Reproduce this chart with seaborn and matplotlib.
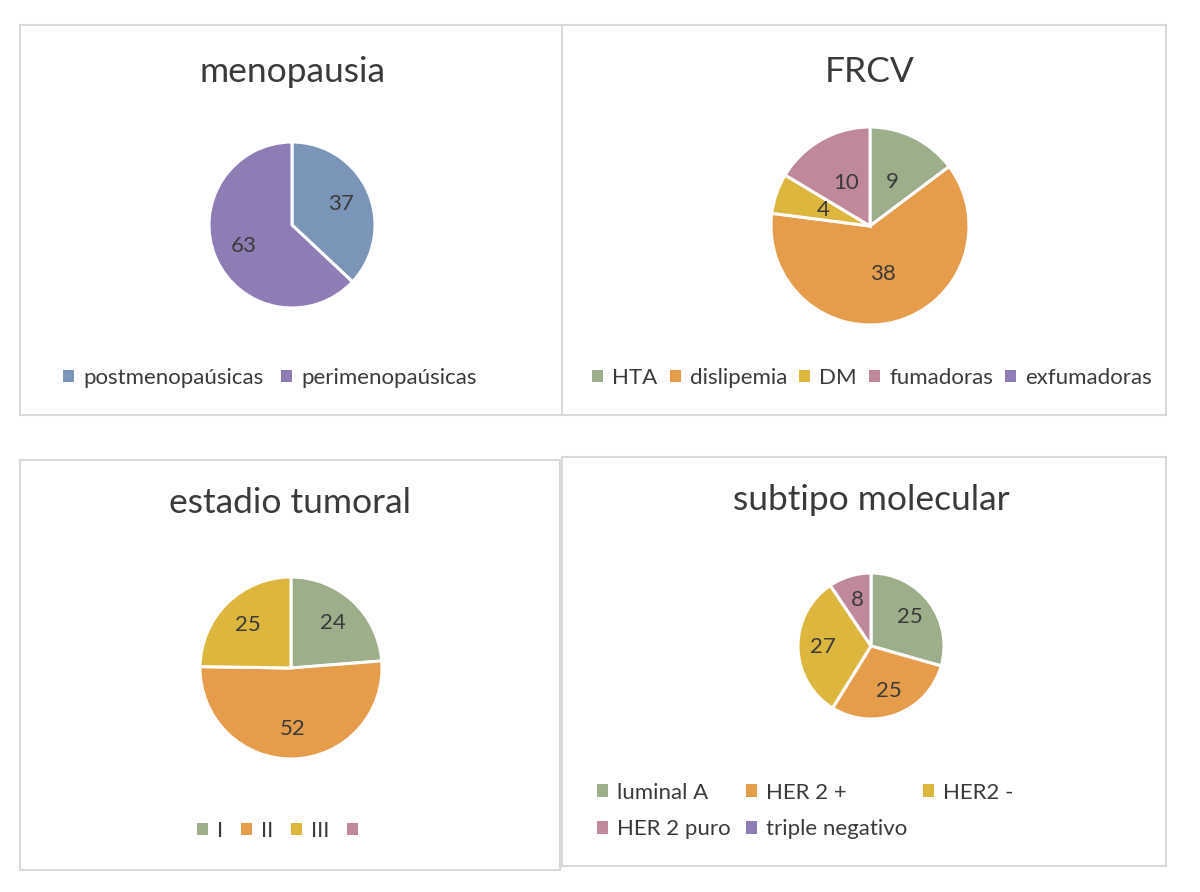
import matplotlib.pyplot as plt
import seaborn as sns
from matplotlib.patches import Rectangle

# Data
meno_labels = ["postmenopaúsicas", "perimenopaúsicas"]
meno_values = [37, 63]

frcv_labels = ["HTA", "dislipemia", "DM", "fumadoras", "exfumadoras"]
frcv_values = [9, 38, 4, 10, 0]

estadio_labels = ["I", "II", "III", ""]
estadio_values = [24, 52, 25, 0]

subtipo_labels = ["luminal A", "HER 2 +", "HER2 -", "HER 2 puro", "triple negativo"]
subtipo_values = [25, 25, 27, 8, 0]

# Colours (Excel-like)
blue = "#7A95B8"
purple = "#8E7CB4"
green = "#9DAE8A"
orange = "#E59D4C"
yellow = "#DDB63E"
pink = "#C0889B"

sns.set_theme(style="white")
plt.rcParams["font.family"] = ["Lato", "DejaVu Sans"]
TXT = "#3A3A3A"

W, H = 1200, 892
fig = plt.figure(figsize=(W / 100, H / 100), dpi=100)


def fx(x):
    return x / W


def fy(y):
    return 1 - y / H


def panel(x0, y0, x1, y1):
    fig.patches.append(Rectangle((fx(x0), fy(y1)), fx(x1 - x0), (y1 - y0) / H,
                                 transform=fig.transFigure, fill=False,
                                 edgecolor="#D9D9D9", linewidth=1.5))


def draw_pie(cx, cy, r, values, colors, dist):
    ax = fig.add_axes([fx(cx - r - 4), fy(cy + r + 4), fx(2 * r + 8), (2 * r + 8) / H])
    vals = [v for v in values if v > 0]
    cols = [c for v, c in zip(values, colors) if v > 0]
    wedges, texts = ax.pie(vals, colors=cols, labels=[str(v) for v in vals],
                           startangle=90, counterclock=False, labeldistance=dist,
                           wedgeprops=dict(edgecolor="white", linewidth=2.2))
    for t in texts:
        t.set_ha("center")
        t.set_va("center")
        t.set_fontsize(16)
        t.set_color(TXT)
    lim = (r + 4) / r
    ax.set_xlim(-lim, lim)
    ax.set_ylim(-lim, lim)
    ax.set_aspect("equal")
    return ax


def legend(labels, colors, x, y, ncol, colsp=0.8, order=None):
    handles = [Rectangle((0, 0), 1, 1, facecolor=c, edgecolor="none") for c in colors]
    if order is not None:
        handles = [handles[i] for i in order]
        labels = [labels[i] for i in order]
    fig.legend(handles, labels, loc="center", bbox_to_anchor=(fx(x), fy(y)),
               ncol=ncol, frameon=False, fontsize=16, labelcolor=TXT,
               handlelength=0.5, handleheight=0.5, handletextpad=0.4,
               columnspacing=colsp, labelspacing=0.75)


# panel frames
panel(20, 25, 562, 415)
panel(562, 25, 1166, 415)
panel(20, 460, 560, 870)
panel(562, 457, 1166, 866)

# menopausia
fig.text(fx(292), fy(72), "menopausia", ha="center", va="center", fontsize=25.5, color=TXT)
draw_pie(292, 225, 83, meno_values, [blue, purple], 0.64)
legend(meno_labels, [blue, purple], 270, 378, 2)

# FRCV
fig.text(fx(870), fy(72), "FRCV", ha="center", va="center", fontsize=25.5, color=TXT)
draw_pie(870, 226, 99, frcv_values, [green, orange, yellow, pink, purple], 0.5)
legend(frcv_labels, [green, orange, yellow, pink, purple], 872, 378, 5, colsp=0.55)

# estadio tumoral
fig.text(fx(290), fy(503), "estadio tumoral", ha="center", va="center", fontsize=25.5, color=TXT)
draw_pie(291, 668, 91, estadio_values, [green, orange, yellow, pink], 0.67)
legend(estadio_labels, [green, orange, yellow, pink], 282, 831, 4)

# subtipo molecular
fig.text(fx(871), fy(500), "subtipo molecular", ha="center", va="center", fontsize=25.5, color=TXT)
draw_pie(871, 646, 73, subtipo_values, [green, orange, yellow, pink, purple], 0.66)
legend(subtipo_labels, [green, orange, yellow, pink, purple], 805, 811, 3,
       colsp=0.7, order=[0, 3, 1, 4, 2])

fig.savefig("out.png", dpi=100, facecolor="white")
